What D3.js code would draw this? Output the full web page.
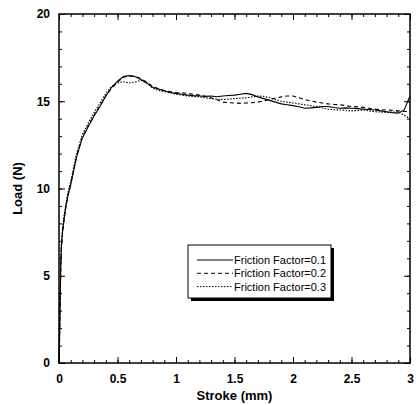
<!DOCTYPE html>
<html>
<head>
<meta charset="utf-8">
<script src="https://cdn.jsdelivr.net/npm/d3@7"></script>
<style>
  body { margin: 0; background: #fff; }
  svg { display: block; }
  .tick-label { font-family: "Liberation Sans", Arial, sans-serif; font-weight: bold; font-size: 12px; }
  .axis-title { font-family: "Liberation Sans", Arial, sans-serif; font-weight: bold; font-size: 13px; }
  .legend-text { font-family: "Liberation Sans", Arial, sans-serif; font-size: 11px; }
</style>
</head>
<body>
<div id="chart"></div>
<script>
// ---------------------------------------------------------------------
// Data
// ---------------------------------------------------------------------

const stroke = [
  0, 0.005, 0.01, 0.015, 0.02, 0.03, 0.04, 0.06, 0.08, 0.1,
  0.15, 0.2, 0.25, 0.3, 0.35, 0.4, 0.45, 0.5, 0.55, 0.6,
  0.65, 0.7, 0.75, 0.8, 0.85, 0.9, 0.95, 1.0, 1.05, 1.1,
  1.15, 1.2, 1.25, 1.3, 1.35, 1.4, 1.45, 1.5, 1.55, 1.6,
  1.65, 1.7, 1.75, 1.8, 1.85, 1.9, 1.95, 2.0, 2.05, 2.1,
  2.15, 2.2, 2.25, 2.3, 2.35, 2.4, 2.45, 2.5, 2.55, 2.6,
  2.65, 2.7, 2.75, 2.8, 2.85, 2.9, 2.95, 3.0
];

const load01 = [
  0, 1.5, 3.6, 5.6, 6.6, 7.5, 8.1, 9.0, 9.7, 10.2,
  11.8, 12.9, 13.55, 14.15, 14.7, 15.3, 15.8, 16.15, 16.42, 16.47,
  16.42, 16.25, 16.05, 15.8, 15.7, 15.6, 15.5, 15.45, 15.4, 15.35,
  15.32, 15.3, 15.28, 15.3, 15.26, 15.3, 15.33, 15.35, 15.4, 15.45,
  15.38, 15.25, 15.15, 15.05, 14.95, 14.85, 14.8, 14.75, 14.68, 14.6,
  14.62, 14.65, 14.7, 14.7, 14.64, 14.6, 14.62, 14.6, 14.58, 14.55,
  14.53, 14.5, 14.45, 14.4, 14.35, 14.32, 14.5, 15.3
];

const load02 = [
  0, 1.4, 3.4, 5.4, 6.5, 7.4, 8.0, 9.0, 9.7, 10.25,
  11.85, 12.95, 13.6, 14.2, 14.75, 15.3, 15.75, 16.1, 16.38, 16.45,
  16.42, 16.3, 16.1, 15.85, 15.72, 15.62, 15.55, 15.5, 15.48, 15.45,
  15.4, 15.35, 15.28, 15.2, 15.08, 14.95, 14.92, 14.9, 14.88, 14.9,
  14.92, 14.95, 15.02, 15.1, 15.18, 15.25, 15.3, 15.3, 15.2, 15.1,
  15.02, 14.95, 14.9, 14.85, 14.82, 14.8, 14.75, 14.7, 14.68, 14.65,
  14.6, 14.55, 14.52, 14.5, 14.48, 14.45, 14.42, 14.4
];

const load03 = [
  0, 1.6, 3.7, 5.8, 6.8, 7.7, 8.3, 9.2, 9.9, 10.4,
  12.0, 13.1, 13.75, 14.35, 14.9, 15.45, 15.85, 16.05, 16.12, 16.05,
  16.1, 16.2, 16.05, 15.75, 15.62, 15.55, 15.48, 15.4, 15.35, 15.3,
  15.27, 15.25, 15.2, 15.15, 15.12, 15.1, 15.12, 15.15, 15.18, 15.2,
  15.25, 15.3, 15.28, 15.2, 15.1, 15.0, 14.95, 14.9, 14.85, 14.8,
  14.75, 14.7, 14.62, 14.55, 14.52, 14.5, 14.48, 14.45, 14.47, 14.5,
  14.45, 14.4, 14.38, 14.35, 14.38, 14.4, 14.2, 14.0
];

const seriesLabels = ["Friction Factor=0.1", "Friction Factor=0.2", "Friction Factor=0.3"];
const seriesDash = [null, "4,3", "1.5,1.5"];

const xTicks = [0, 0.5, 1, 1.5, 2, 2.5, 3];
const yTicks = [0, 5, 10, 15, 20];

// ---------------------------------------------------------------------
// Layout
// ---------------------------------------------------------------------

const W = 416, H = 405;
const margin = { top: 14, right: 6, bottom: 42, left: 59 };
const width = W - margin.left - margin.right;
const height = H - margin.top - margin.bottom;

const svg = d3.select("#chart").append("svg")
  .attr("width", W)
  .attr("height", H);

const g = svg.append("g")
  .attr("transform", `translate(${margin.left},${margin.top})`);

const x = d3.scaleLinear().domain([0, 3]).range([0, width]);
const y = d3.scaleLinear().domain([0, 20]).range([height, 0]);

// ---------------------------------------------------------------------
// Axes: inward ticks on all four sides
// ---------------------------------------------------------------------

const xMinor = d3.range(0, 31).map(i => i / 10);
const yMinor = d3.range(0, 21);

function drawTicks(axisGen, transform, minor, major) {
  const major2 = axisGen.scale().ticks ? major : major;
  g.append("g").attr("transform", transform)
    .call(axisGen.tickValues(minor).tickSize(-3).tickFormat(""))
    .call(a => a.select(".domain").remove())
    .selectAll("line").attr("stroke", "#000").attr("stroke-width", 1);
  g.append("g").attr("transform", transform)
    .call(axisGen.tickValues(major2).tickSize(-6).tickFormat(""))
    .call(a => a.select(".domain").remove())
    .selectAll("line").attr("stroke", "#000").attr("stroke-width", 1);
}

drawTicks(d3.axisBottom(x), `translate(0,${height})`, xMinor, xTicks);
drawTicks(d3.axisTop(x), "translate(0,0)", xMinor, xTicks);
drawTicks(d3.axisLeft(y), "translate(0,0)", yMinor, yTicks);
drawTicks(d3.axisRight(y), `translate(${width},0)`, yMinor, yTicks);

// frame
g.append("rect")
  .attr("width", width)
  .attr("height", height)
  .attr("fill", "none")
  .attr("stroke", "#000")
  .attr("stroke-width", 1.5);

// tick labels
g.append("g")
  .attr("transform", `translate(0,${height})`)
  .call(d3.axisBottom(x).tickValues(xTicks).tickSize(0).tickPadding(11).tickFormat(d3.format("")))
  .call(a => a.select(".domain").remove())
  .selectAll("text")
  .attr("class", "tick-label")
  .attr("fill", "#000");

g.append("g")
  .call(d3.axisLeft(y).tickValues(yTicks).tickSize(0).tickPadding(9))
  .call(a => a.select(".domain").remove())
  .selectAll("text")
  .attr("class", "tick-label")
  .attr("fill", "#000");

// axis titles
svg.append("text")
  .attr("class", "axis-title")
  .attr("x", margin.left + width / 2)
  .attr("y", 400)
  .attr("text-anchor", "middle")
  .text("Stroke (mm)");

svg.append("text")
  .attr("class", "axis-title")
  .attr("transform", `translate(22,${margin.top + height / 2}) rotate(-90)`)
  .attr("text-anchor", "middle")
  .text("Load (N)");

// ---------------------------------------------------------------------
// Curves
// ---------------------------------------------------------------------

const line = d3.line()
  .x(d => x(d[0]))
  .y(d => y(d[1]))
  .curve(d3.curveLinear);

[load01, load02, load03].forEach((vals, i) => {
  g.append("path")
    .datum(stroke.map((s, k) => [s, vals[k]]))
    .attr("fill", "none")
    .attr("stroke", "#000")
    .attr("stroke-width", 1.1)
    .attr("stroke-dasharray", seriesDash[i])
    .attr("d", line);
});

// ---------------------------------------------------------------------
// Legend with drop shadow
// ---------------------------------------------------------------------

const lg = svg.append("g").attr("transform", "translate(188,245)");
const lw = 143, lh = 53;

lg.append("rect")
  .attr("x", 3).attr("y", 3)
  .attr("width", lw).attr("height", lh)
  .attr("fill", "#000");
lg.append("rect")
  .attr("width", lw).attr("height", lh)
  .attr("fill", "#fff")
  .attr("stroke", "#000")
  .attr("stroke-width", 1);

seriesLabels.forEach((label, i) => {
  const ly = 15 + i * 13.3;
  lg.append("line")
    .attr("x1", 9).attr("x2", 45)
    .attr("y1", ly).attr("y2", ly)
    .attr("stroke", "#000")
    .attr("stroke-width", 1)
    .attr("stroke-dasharray", seriesDash[i]);
  lg.append("text")
    .attr("class", "legend-text")
    .attr("x", 46)
    .attr("y", ly + 4)
    .text(label);
});
</script>
</body>
</html>
